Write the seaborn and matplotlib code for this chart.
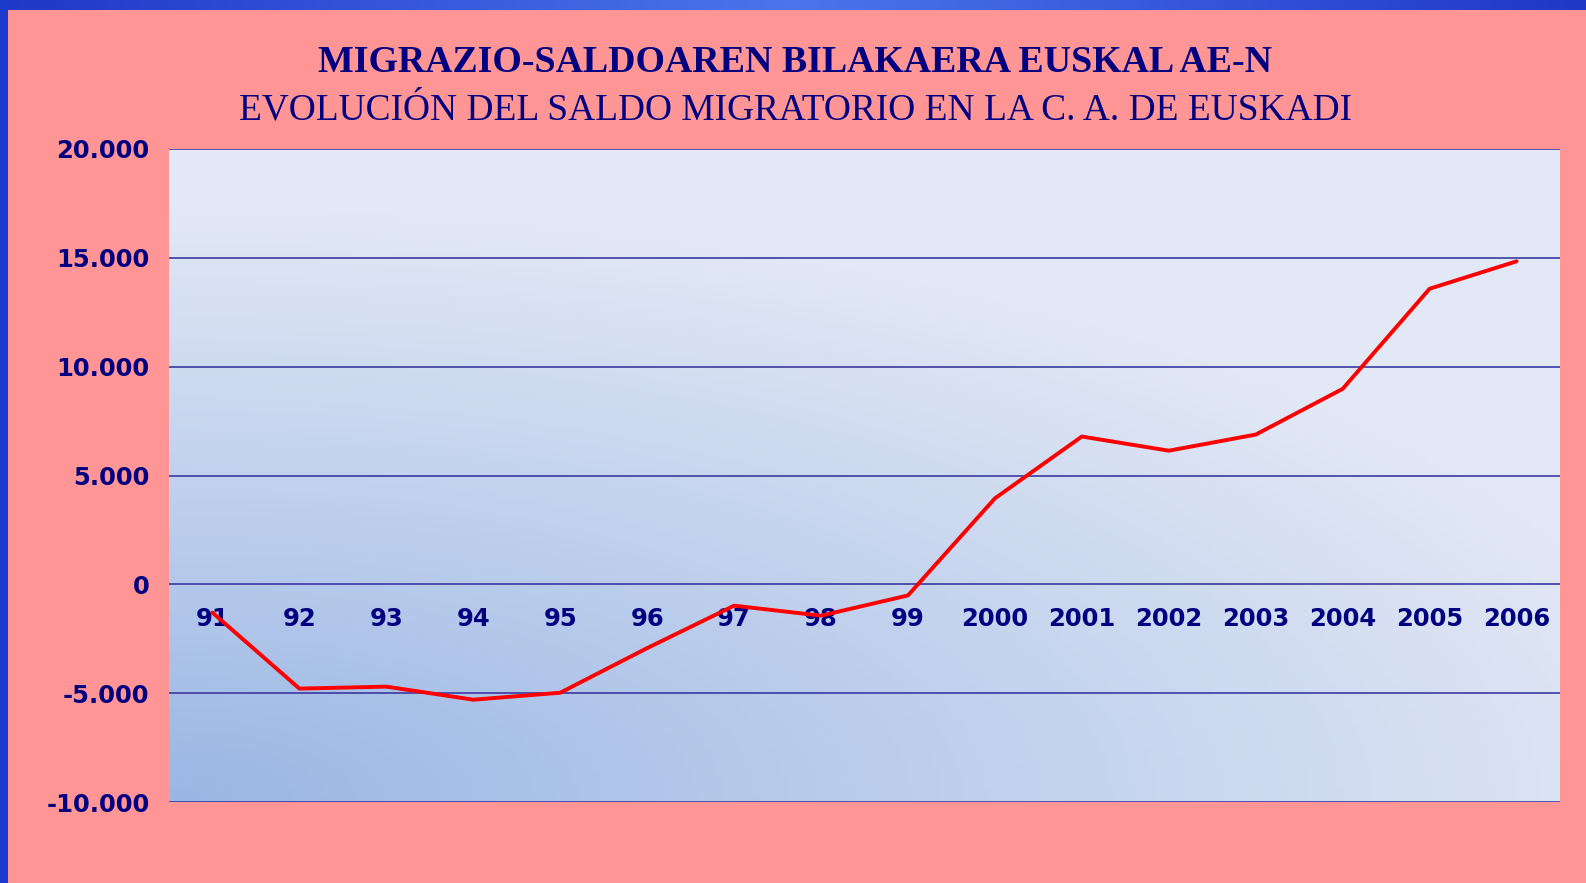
import numpy as np
import pandas as pd
import seaborn as sns
import matplotlib.pyplot as plt

# Data
years = ['91', '92', '93', '94', '95', '96', '97', '98', '99',
         '2000', '2001', '2002', '2003', '2004', '2005', '2006']
saldo = [-1300, -4790, -4700, -5300, -4980, -2930, -980, -1440, -510,
         3950, 6790, 6140, 6880, 8980, 13580, 14840]
yticks = [-10000, -5000, 0, 5000, 10000, 15000, 20000]
ytick_labels = ['-10.000', '-5.000', '0', '5.000', '10.000', '15.000', '20.000']

title_eu = 'MIGRAZIO-SALDOAREN BILAKAERA EUSKAL AE-N'
title_es = 'EVOLUCIÓN DEL SALDO MIGRATORIO EN LA C. A. DE EUSKADI'

df = pd.DataFrame({'pos': np.arange(len(years)), 'year': years, 'saldo': saldo})

sns.set_style('white')
plt.rcParams['font.family'] = ['DejaVu Sans']
navy = '#000080'
pink = '#FF9595'

fig = plt.figure(figsize=(15.86, 8.83), dpi=100)
fig.patch.set_facecolor(pink)

# blue frame at top and left
top = fig.add_axes([0, 1 - 10 / 883, 1, 10 / 883])
g = np.abs(np.linspace(-1, 1, 400))[None, :]
top.imshow(g, aspect='auto', cmap=plt.matplotlib.colors.LinearSegmentedColormap.from_list(
    'b', ['#4C74EC', '#1E38C8']), extent=[0, 1, 0, 1])
top.axis('off')
left = fig.add_axes([0, 0, 8 / 1586, 1])
left.set_facecolor('#1C3ACC')
left.set_xticks([])
left.set_yticks([])
for s in left.spines.values():
    s.set_visible(False)

ax = fig.add_axes([169 / 1586, 1 - 802 / 883, (1560 - 169) / 1586, (802 - 149) / 883])

# gradient background of plot area
nx, ny = 200, 200
xx, yy = np.meshgrid(np.linspace(0, 1, nx), np.linspace(0, 1, ny))
t = np.clip(np.sqrt((xx * 0.9) ** 2 + (yy * 1.1) ** 2) / 1.0, 0, 1)
c0 = np.array([154, 182, 228]) / 255
c1 = np.array([226, 232, 245]) / 255
img = c0[None, None, :] * (1 - t[..., None]) + c1[None, None, :] * t[..., None]
ax.imshow(img, origin='lower', aspect='auto', extent=[-0.5, 15.5, -10000, 20000], zorder=0)

for v in yticks:
    ax.axhline(v, color='#3A3AA0', lw=1.2, zorder=1)

sns.lineplot(data=df, x='pos', y='saldo', color='#FF0000', lw=2.8, ax=ax, zorder=3, sort=False)

ax.spines['bottom'].set_position(('data', 0))
for s in ax.spines.values():
    s.set_visible(False)
ax.set_xlim(-0.5, 15.5)
ax.set_ylim(-10000, 20000)
ax.set_yticks(yticks)
ax.set_yticklabels(ytick_labels, fontsize=17.5, fontweight='bold', color=navy)
ax.set_xticks(df['pos'])
ax.set_xticklabels(years, fontsize=17.5, fontweight='bold', color=navy)
ax.tick_params(axis='x', length=0, pad=16.5)
ax.tick_params(axis='y', length=0, pad=14)
ax.set_xlabel('')
ax.set_ylabel('')

fig.text(0.5015, 1 - 62 / 883, title_eu, ha='center', va='center', fontsize=27.3,
         fontweight='bold', color=navy, family='Liberation Serif')
fig.text(0.5015, 1 - 110 / 883, title_es, ha='center', va='center', fontsize=26.9,
         color=navy, family='Liberation Serif')

fig.savefig('out.png', dpi=100, facecolor=fig.get_facecolor())
